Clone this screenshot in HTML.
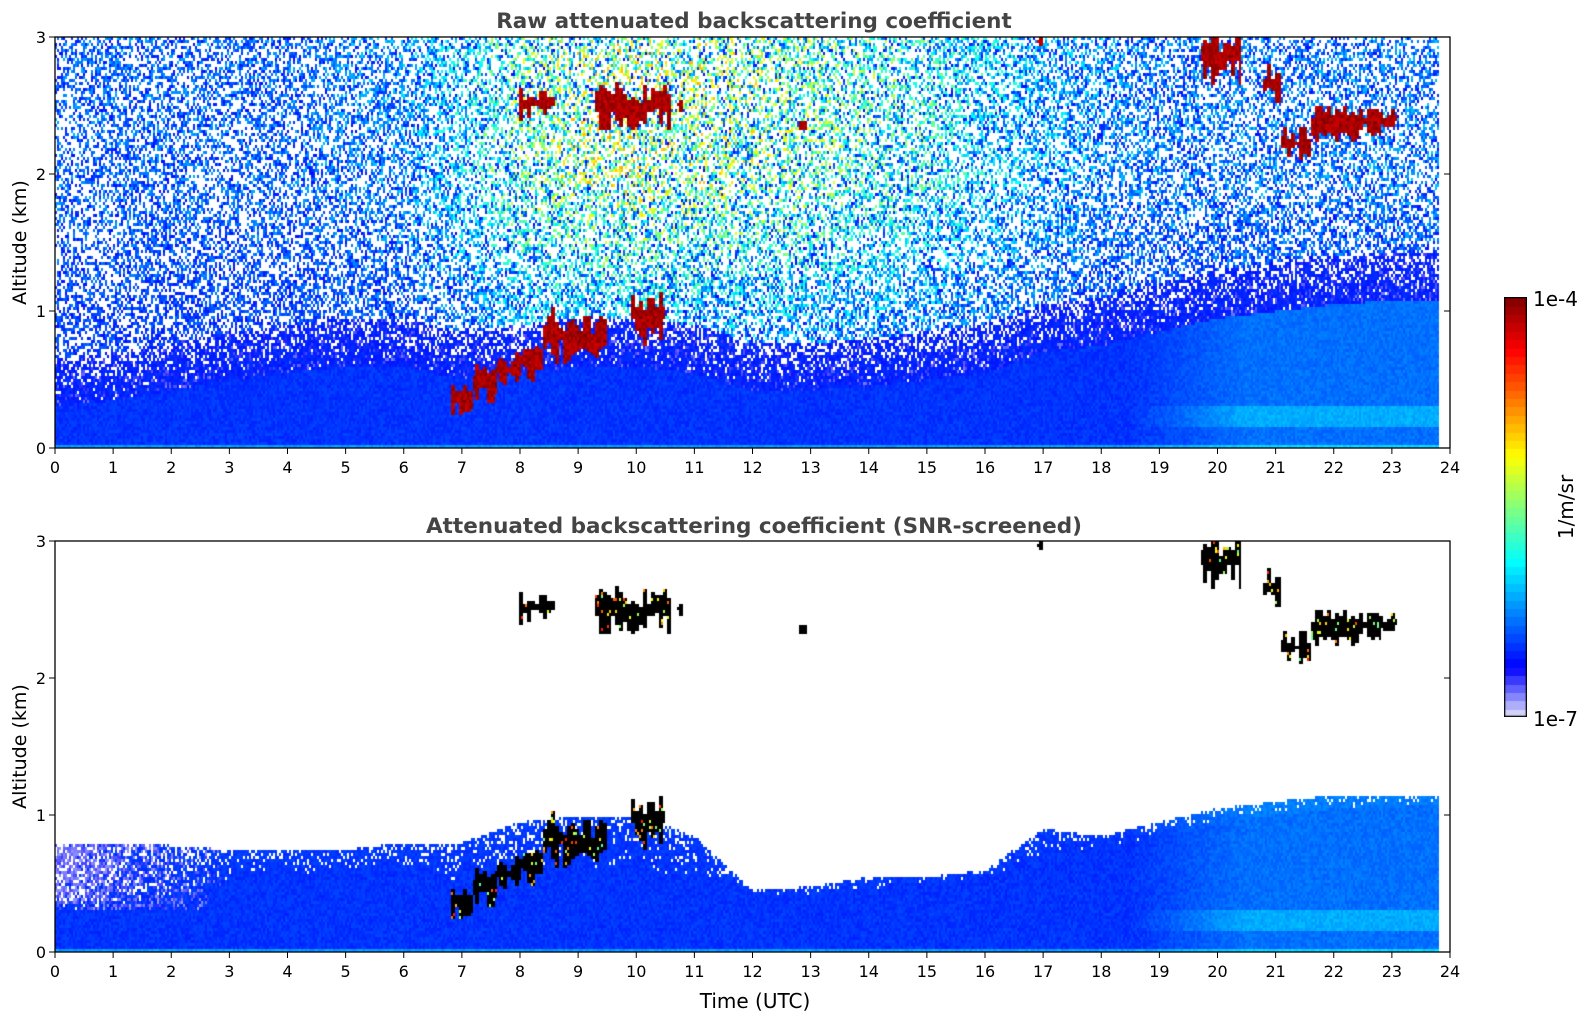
<!DOCTYPE html>
<html><head><meta charset="utf-8"><style>
body{margin:0;background:#fff;width:1595px;height:1020px;overflow:hidden;font-family:"DejaVu Sans","Liberation Sans",sans-serif}
canvas{position:absolute}
svg{position:absolute;left:0;top:0}
</style></head><body>
<canvas id="top" style="left:55px;top:37px" width="1395" height="411"></canvas>
<canvas id="bot" style="left:55px;top:541px" width="1395" height="411"></canvas>
<canvas id="cb" style="left:1504px;top:297px" width="23" height="420"></canvas>
<svg id="ov" width="1595" height="1020"></svg>
<script>
// ---- data ----
const hours=[0,1,2,3,4,5,6,7,8,9,10,11,12,13,14,15,16,17,18,19,20,21,22,23,24];
const blhKm=[0.3,0.35,0.42,0.5,0.55,0.6,0.6,0.5,0.55,0.6,0.6,0.55,0.42,0.42,0.45,0.5,0.55,0.7,0.75,0.85,0.95,1.0,1.05,1.08,1.08];
const screenTopKm=[0.8,0.8,0.78,0.75,0.75,0.75,0.8,0.8,0.95,1.0,1.0,0.85,0.45,0.48,0.55,0.55,0.6,0.9,0.85,0.95,1.05,1.1,1.15,1.15,1.15];
const solarNoise=[0.2,0.2,0.2,0.2,0.2,0.25,0.3,0.5,0.8,0.95,1.0,0.95,0.9,0.85,0.75,0.65,0.5,0.4,0.3,0.25,0.25,0.25,0.25,0.25,0.25];
const cloudStart=[8.0,9.3,10.7,12.8,19.7,20.8,21.1,21.6,22.8,16.9,6.8,7.2,7.6,8.0,8.4,8.8,9.9];
const cloudEnd  =[8.6,10.6,10.8,12.95,20.4,21.1,21.6,22.8,23.1,17.0,7.2,7.6,8.0,8.4,8.8,9.5,10.5];
const cloudBase =[2.45,2.4,2.48,2.33,2.75,2.55,2.15,2.3,2.37,2.95,0.3,0.38,0.5,0.55,0.7,0.7,0.85];
const cloudTop  =[2.6,2.6,2.53,2.4,3.0,2.75,2.3,2.45,2.45,3.0,0.42,0.55,0.65,0.75,0.95,0.9,1.1];
const xTicks=[0,1,2,3,4,5,6,7,8,9,10,11,12,13,14,15,16,17,18,19,20,21,22,23,24];
const yTicks=[0,1,2,3];
const dataEnd=23.8;
// ---- scales ----
const W=1395,H=411,X0=55,TOP1=37,TOP2=541;
const xs=t=>t/24*W, ys=z=>H-z/3*H;
function interp(arr,t){const i=Math.min(23,Math.floor(t));const f=t-i;return arr[i]*(1-f)+arr[i+1]*f;}
function hash(a,b,s){let h=(a*374761393+b*668265263+s*982451653)|0;h=(h^(h>>>13))*1274126177|0;h=h^(h>>>16);return (h>>>0)/4294967296;}
function cmap(v){
 if(v<0)return [255,255,255];
 if(v<0.12){const f=v/0.12;return [Math.round(230-230*f),Math.round(230-230*f),Math.round(250+5*f)];}
 const t=0.125+(v-0.12)/0.88*0.875;
 const c=x=>Math.round(255*Math.max(0,Math.min(1,x)));
 return [c(1.5-Math.abs(4*t-3)),c(1.5-Math.abs(4*t-2)),c(1.5-Math.abs(4*t-1))];
}
function inCloud(t,z,col){for(let k=0;k<cloudStart.length;k++){
  const th=cloudTop[k]-cloudBase[k];
  const j1=(hash(col,k,5)-0.5)*th*0.8, j2=(hash(col,k,9)-0.5)*th*0.8;
  if(t>=cloudStart[k]&&t<=cloudEnd[k]&&z>=cloudBase[k]+j1&&z<=cloudTop[k]+j2)return k;}return -1;}
function draw(id,screened){
 const cv=document.getElementById(id),ctx=cv.getContext('2d');
 const img=ctx.createImageData(W,H),d=img.data;
 const CW=2,CH=3;
 for(let py=0;py<H;py+=CH){for(let px=0;px<W;px+=CW){
  const t=(px+1)/W*24,z=(H-py-1)/H*3;
  let v;
  const h=hash(px,py,screened?7:3),h2=hash(px,py,11);
  const bl=interp(blhKm,t),st=interp(screenTopKm,t);
  const ck=inCloud(t,z,px>>2);
  const late=Math.max(0,Math.min(1,(t-18.5)/2));
  if(t>dataEnd)v=-1;
  else if(ck>=0){v=screened?(h<0.93?-2:0.45+h2*0.4):0.92+h2*0.08;}
  else if(z<bl){
    v=0.15+0.04*h+late*(0.06+(z>0.15&&z<0.3?0.06:0))+(z<0.015?0.1:0);
    const lav=Math.max(0,1-t/3);
    if(screened&&z>0.3&&z>bl-0.15&&h2<lav)v=0.03+0.07*h;
  } else if(screened){
    if(z<st){v=(h<0.3*(z-bl)/(st-bl+0.01))?-1:0.15+0.04*h+late*0.07;
      const lav=Math.max(0,1-t/3.2)*Math.min(1,(z-0.3)/0.1);
      if(z>0.3&&h2<lav)v=(h<0.3)?-1:0.02+0.07*h;}
    else v=-1;
  } else {
    const a=(z-bl);
    if(a<0.35){v=h<a*1.2?-1:(h2<0.2?0.05+h*0.06:0.13+0.04*h2);}
    else{
      const sn=interp(solarNoise,t);
      const wp=0.42+0.1*Math.min(1,a);
      if(h<wp)v=-1;
      else{const amp=0.05+0.5*sn*Math.min(1,z/2.0);v=Math.min(0.72,0.13+h2*amp*1.1);}
    }
  }
  let c;
  if(v===-2)c=[0,0,0];else c=cmap(Math.min(1,v));
  for(let dy=0;dy<CH;dy++)for(let dx=0;dx<CW;dx++){
   const X=px+dx,Y=py+dy;if(X>=W||Y>=H)continue;
   const o=(Y*W+X)*4;d[o]=c[0];d[o+1]=c[1];d[o+2]=c[2];d[o+3]=255;}
 }}
 ctx.putImageData(img,0,0);
}
draw('top',false);draw('bot',true);
// colorbar
(function(){const cv=document.getElementById('cb'),ctx=cv.getContext('2d');
 const n=50;for(let i=0;i<n;i++){const c=cmap(i===0?0.01:(i+0.5)/n);ctx.fillStyle=`rgb(${c[0]},${c[1]},${c[2]})`;
 const y0=420-(i+1)*420/n;ctx.fillRect(0,Math.floor(y0),23,Math.ceil(420/n)+1);}
 ctx.strokeStyle='#000';ctx.lineWidth=1.5;ctx.strokeRect(0.5,0.5,22,419);})();
// overlay
const ov=document.getElementById('ov'),NS='http://www.w3.org/2000/svg';
function el(tag,attrs,txt){const e=document.createElementNS(NS,tag);for(const k in attrs)e.setAttribute(k,attrs[k]);if(txt!==undefined)e.textContent=txt;ov.appendChild(e);return e;}
[[TOP1,'top'],[TOP2,'bottom']].forEach(([top,nm])=>{
 const r=el('rect',{x:X0,y:top,width:W,height:H,fill:'none',stroke:'#000','stroke-width':1.3});
 
 
 xTicks.forEach(t=>{
  const x=X0+xs(t);
  const l=el('line',{x1:x,x2:x,y1:top+H,y2:top+H+6,stroke:'#000','stroke-width':1});
  
  
  const tx=el('text',{x:x,y:top+H+25,'text-anchor':'middle','font-size':16},String(t));
  
  
 });
 yTicks.forEach(z=>{
  const y=top+ys(z);
  el('line',{x1:X0-6,x2:X0,y1:y,y2:y,stroke:'#000'});
  el('line',{x1:X0+W,x2:X0+W-6,y1:y,y2:y,stroke:'#000'});
  const tx=el('text',{x:X0-9,y:y+6,'text-anchor':'end','font-size':16},String(z));
  
  
 });
 const yl=el('text',{x:0,y:0,transform:`translate(26,${top+H/2}) rotate(-90)`,'text-anchor':'middle','font-size':19},'Altitude (km)');
 
 
});
const t1=el('text',{x:754,y:28,'text-anchor':'middle','font-size':21.5,'font-weight':'bold',fill:'#444'},'Raw attenuated backscattering coefficient');


const t2=el('text',{x:754,y:533,'text-anchor':'middle','font-size':21.5,'font-weight':'bold',fill:'#444'},'Attenuated backscattering coefficient (SNR-screened)');


const xl=el('text',{x:755,y:1008,'text-anchor':'middle','font-size':20},'Time (UTC)');


const c1=el('text',{x:1533,y:306,'font-size':20},'1e-4');


const c2=el('text',{x:1533,y:726,'font-size':20},'1e-7');


const cu=el('text',{x:0,y:0,transform:'translate(1573,507) rotate(-90)','text-anchor':'middle','font-size':20},'1/m/sr');


</script>
</body></html>
